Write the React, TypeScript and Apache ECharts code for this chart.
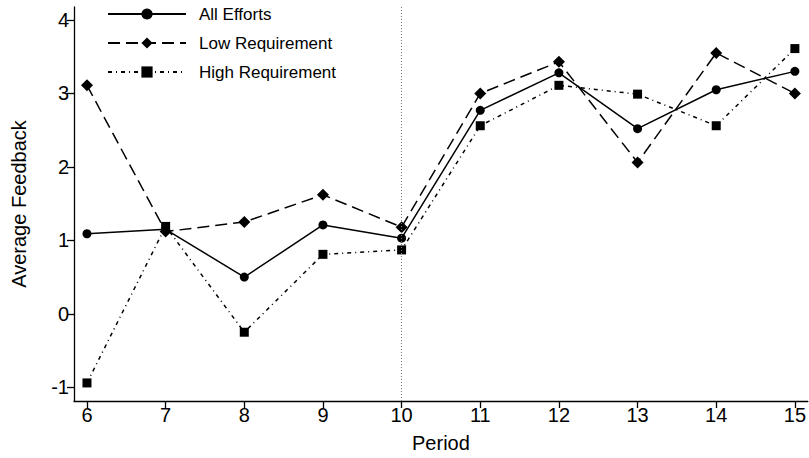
import React, { useEffect, useRef } from "react";
import * as echarts from "echarts";

const periods = [6, 7, 8, 9, 10, 11, 12, 13, 14, 15];
const allEfforts = [1.09, 1.15, 0.5, 1.21, 1.03, 2.77, 3.28, 2.52, 3.05, 3.3];
const lowRequirement = [3.11, 1.12, 1.25, 1.62, 1.18, 3.0, 3.43, 2.06, 3.55, 3.0];
const highRequirement = [-0.94, 1.19, -0.25, 0.81, 0.87, 2.56, 3.11, 2.99, 2.56, 3.61];
const yTicks = [-1, 0, 1, 2, 3, 4];
const seriesNames = ["All Efforts", "Low Requirement", "High Requirement"];
const treatmentPeriod = 10;

const FONT = "'Liberation Sans', Arial, Helvetica, sans-serif";

export default function App() {
  const ref = useRef<HTMLDivElement>(null);
  useEffect(() => {
    if (!ref.current) return;
    const chart = echarts.init(ref.current, undefined, { renderer: "svg" });
    const pairs = (vals: number[]) => periods.map((p, i) => [p, vals[i]]);
    const base = {
      type: "line",
      color: "#000",
      showSymbol: true,
      z: 3,
    };
    chart.setOption({
      animation: false,
      backgroundColor: "#fff",
      textStyle: { fontFamily: FONT, color: "#000" },
      grid: { left: 74, right: 0, top: 7, bottom: 55, containLabel: false },
      legend: {
        orient: "vertical",
        left: 102,
        top: 0,
        itemWidth: 78,
        itemHeight: 14,
        itemGap: 11,
        data: seriesNames,
        textStyle: { fontSize: 17, fontFamily: FONT, color: "#000", lineHeight: 18, padding: [0, 0, 0, 8] },
      },
      xAxis: {
        type: "value",
        min: 5.835,
        max: 15.165,
        name: "Period",
        nameLocation: "middle",
        nameGap: 32,
        nameTextStyle: { fontSize: 20, fontFamily: FONT, color: "#000" },
        axisLine: { show: true, onZero: false, lineStyle: { color: "#000", width: 1.3 } },
        axisTick: { show: true, length: 7, customValues: periods, lineStyle: { color: "#000", width: 1.3 } },
        axisLabel: { customValues: periods, fontSize: 20, margin: 4, color: "#000", fontFamily: FONT },
        splitLine: { show: false },
      },
      yAxis: {
        type: "value",
        min: -1.186,
        max: 4.176,
        name: "Average Feedback",
        nameLocation: "middle",
        nameGap: 45,
        nameTextStyle: { fontSize: 20, fontFamily: FONT, color: "#000" },
        axisLine: { show: true, onZero: false, lineStyle: { color: "#000", width: 1.3 } },
        axisTick: { show: true, length: 7, customValues: yTicks, lineStyle: { color: "#000", width: 1.3 } },
        axisLabel: { customValues: yTicks, fontSize: 20, margin: 5, color: "#000", fontFamily: FONT },
        splitLine: { show: false },
      },
      series: [
        {
          ...base,
          name: seriesNames[0],
          data: pairs(allEfforts),
          symbol: "circle",
          symbolSize: 9,
          lineStyle: { color: "#000", width: 1.5, type: "solid" },
          itemStyle: { color: "#000" },
          markLine: {
            silent: true,
            symbol: "none",
            label: { show: false },
            lineStyle: { color: "#777", width: 1, type: [1, 2] },
            data: [{ xAxis: treatmentPeriod }],
          },
        },
        {
          ...base,
          name: seriesNames[1],
          data: pairs(lowRequirement),
          symbol: "diamond",
          symbolSize: 12,
          lineStyle: { color: "#000", width: 1.5, type: [12, 6] },
          itemStyle: { color: "#000" },
        },
        {
          ...base,
          name: seriesNames[2],
          data: pairs(highRequirement),
          symbol: "rect",
          symbolSize: 9,
          lineStyle: { color: "#000", width: 1.5, type: [4, 4, 1, 4] },
          itemStyle: { color: "#000" },
        },
      ],
    });
    return () => chart.dispose();
  }, []);
  return (
    <div
      ref={ref}
      style={{ position: "absolute", left: 0, top: 0, width: 809, height: 458, background: "#fff" }}
    />
  );
}
